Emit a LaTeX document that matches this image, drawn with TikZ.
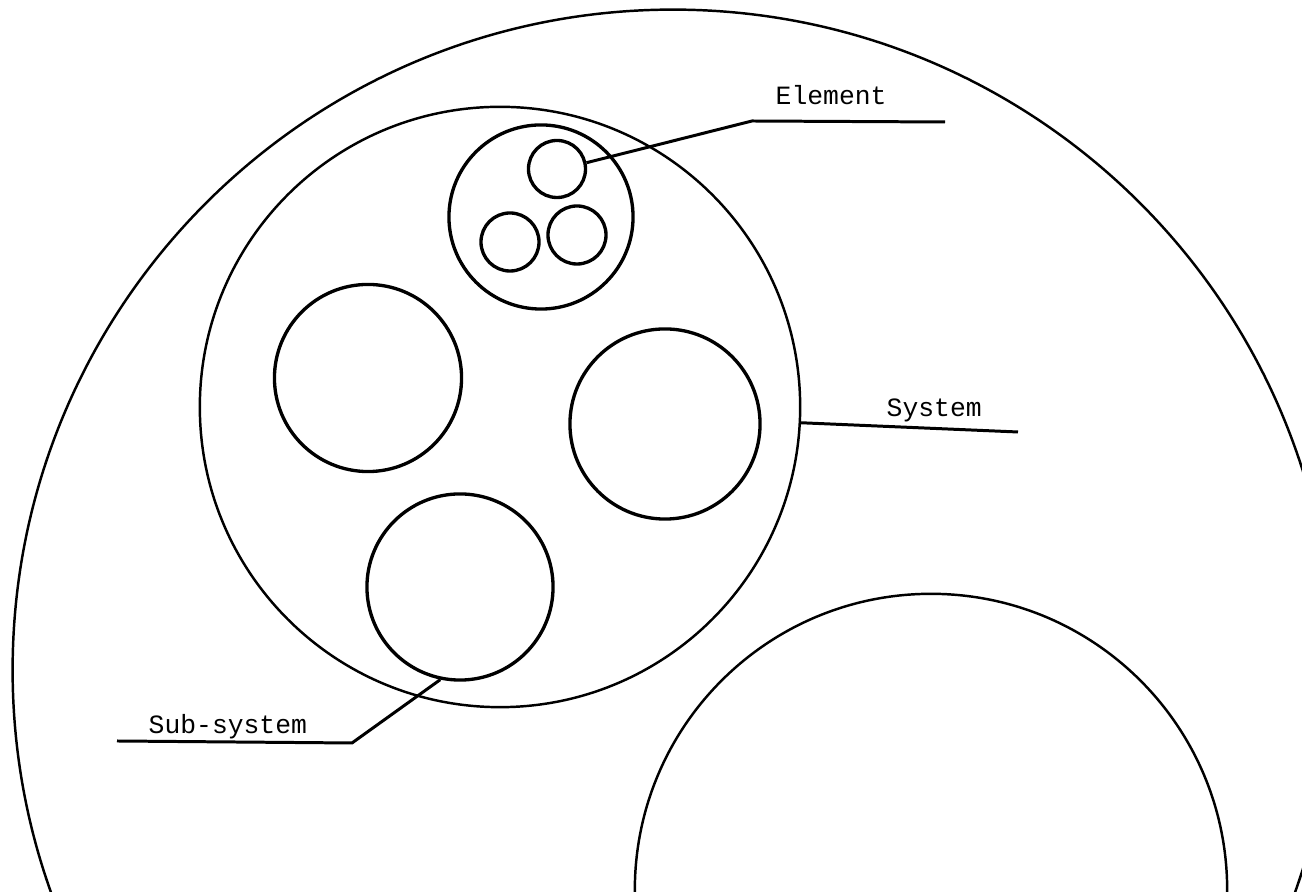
\documentclass[tikz,border=0pt]{standalone}
\usepackage{fontspec}
\setmonofont{Liberation Mono}
\usetikzlibrary{positioning}

\begin{document}
\begin{tikzpicture}[
		x=0.01cm, y=-0.01cm,
		ring/.style={
			draw,
			circle,
			inner sep=0pt,
			line width=0.7pt,
		},
		part/.style={
			ring,
			line width=0.95pt,
		},
		leader/.style={
			line width=0.85pt,
		},
		tag/.style={
			inner sep=0pt,
			anchor=base west,
			font=\ttfamily\fontsize{7.5}{9}\selectfont,
		}
	]

		\useasboundingbox (0,0) rectangle (1302,892);

		% Cercles principaux
		\node[ring, minimum size=13.2cm] (world) at (673,670) {};
		\node[ring, minimum size=6cm] (system) at (500,407) {};
		\node[ring, minimum size=5.92cm] (other) at (931,890) {};

		% Sous-systemes
		\node[part, minimum size=1.84cm] (group) at (541,217) {};
		\node[part, minimum size=1.87cm] (subA) at (368,378) {};
		\node[part, minimum size=1.9cm] (subB) at (665,424) {};
		\node[part, minimum size=1.86cm] (subC) at (460,587) {};

		% Elements
		\node[part, minimum size=0.57cm] (elemA) at (557,169) {};
		\node[part, minimum size=0.58cm] (elemB) at (510,242) {};
		\node[part, minimum size=0.58cm] (elemC) at (577,235) {};

		% Etiquettes
		\node[tag] (eltext) at (775,105) {Element};
		\node[tag] (systext) at (886,417) {System};
		\node[tag] (subtext) at (148,734) {Sub-system};

		\coordinate (elbend) at (752,121);
		\coordinate (elend) at (945,122);
		\coordinate (sysend) at (1018,432);
		\coordinate (subbend) at (352,743);
		\coordinate (subend) at (117,741);

		% Traits de rappel
		\draw[leader] (elemA.12) -- (elbend) -- (elend);
		\draw[leader] (system.-3) -- (sysend);
		\draw[leader] (subC.-102) -- (subbend) -- (subend);

	\end{tikzpicture}
\end{document}
